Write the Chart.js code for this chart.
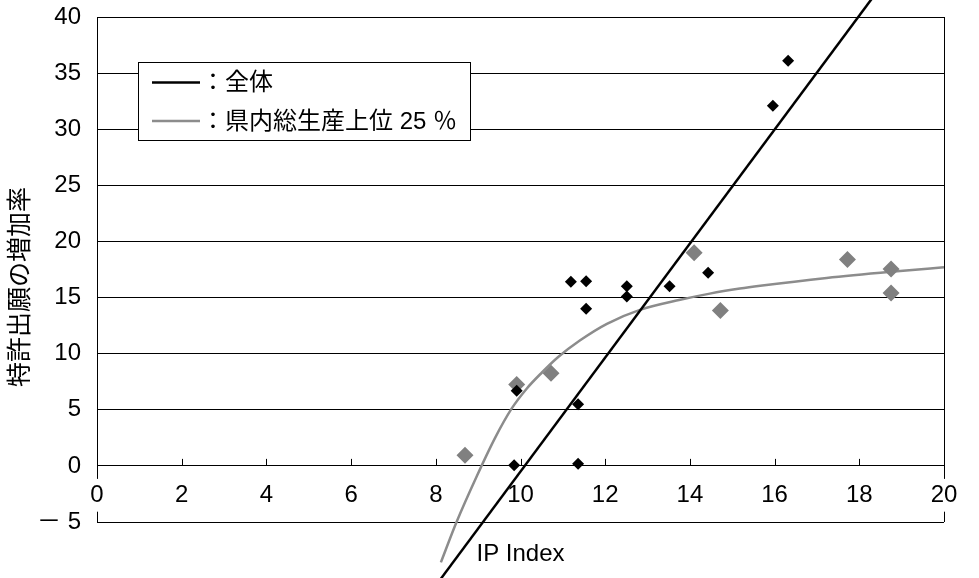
<!DOCTYPE html>
<html>
<head>
<meta charset="utf-8">
<script src="https://cdn.jsdelivr.net/npm/chart.js@4.4.1/dist/chart.umd.min.js"></script>
<style>
  body { margin: 0; background: #fff; }
  canvas { display: block; }
</style>
</head>
<body>
<canvas id="grafico" width="979" height="578"></canvas>
<script>
// 全体 (black diamonds)
const zentaiX = [9.85, 9.91, 11.36, 11.36, 11.19, 11.55, 11.55, 12.51, 12.51, 13.52, 14.43, 15.96, 16.32];
const zentaiY = [0.05, 6.7, 0.2, 5.5, 16.4, 16.45, 14.0, 16.0, 15.1, 16.0, 17.2, 32.1, 36.1];
// 県内総生産上位 25 % (gray diamonds)
const jouiX = [8.69, 9.91, 10.72, 14.1, 14.72, 17.72, 18.75, 18.75];
const jouiY = [0.95, 7.25, 8.25, 19.0, 13.85, 18.4, 17.55, 15.4];
// trend line for 全体 (ends)
const lineX = [8.12, 18.29];
const lineY = [-10.05, 41.6];
// trend curve for 上位 25 %
const curveX = [8.12, 8.49, 8.97, 9.4, 9.79, 10.15, 10.5, 10.89, 11.4, 12.04, 12.82, 13.77, 14.47, 15.18, 15.66, 17.23, 18.75, 20.0, 20.8];
const curveY = [-8.6, -5.0, -0.9, 2.5, 5.1, 6.9, 8.3, 9.7, 11.17, 12.66, 13.9, 14.8, 15.35, 15.8, 16.05, 16.75, 17.3, 17.7, 17.95];

const legendItems = [
  { color: '#000', text: '：全体' },
  { color: '#8c8c8c', text: '：県内総生産上位 25 ％' }
];
const xTitle = 'IP Index';
const yTitle = '特許出願の増加率';

const pts = (xs, ys) => xs.map((x, i) => ({ x: x, y: ys[i] }));
const fontFamily = "'Liberation Sans', Arial, 'Noto Sans CJK JP', sans-serif";

const decoraciones = {
  id: 'decoraciones',
  beforeDatasetsDraw(chart) {
    const { ctx, scales: { x, y } } = chart;
    const y0 = y.getPixelForValue(0);
    ctx.save();
    ctx.strokeStyle = '#000';
    ctx.lineWidth = 1;
    x.ticks.forEach(t => {
      const px = Math.round(x.getPixelForValue(t.value)) + 0.5;
      ctx.beginPath();
      ctx.moveTo(px, y0);
      ctx.lineTo(px, y0 - 7);
      ctx.stroke();
    });
    ctx.restore();
  },
  afterDraw(chart) {
    const { ctx, chartArea } = chart;
    ctx.save();
    // legend box
    ctx.fillStyle = '#fff';
    ctx.fillRect(138.5, 62.5, 332, 78);
    ctx.strokeStyle = '#000';
    ctx.lineWidth = 1;
    ctx.strokeRect(138.5, 62.5, 332, 78);
    ctx.font = '24px ' + fontFamily;
    ctx.textBaseline = 'middle';
    ctx.textAlign = 'left';
    legendItems.forEach((item, i) => {
      const ly = 82.5 + i * 38.5;
      ctx.strokeStyle = item.color;
      ctx.lineWidth = 2.5;
      ctx.beginPath();
      ctx.moveTo(152, ly);
      ctx.lineTo(200, ly);
      ctx.stroke();
      ctx.fillStyle = '#000';
      ctx.fillText(item.text, 201, ly + 1);
    });
    // axis titles
    ctx.textAlign = 'center';
    ctx.fillText(xTitle, (chartArea.left + chartArea.right) / 2, 554);
    ctx.translate(21, 287);
    ctx.rotate(-Math.PI / 2);
    ctx.font = '25px ' + fontFamily;
    ctx.fillText(yTitle, 0, 0);
    ctx.restore();
  }
};

const ctx = document.getElementById('grafico').getContext('2d');

new Chart(ctx, {
  type: 'scatter',
  data: {
    datasets: [
      {
        label: '全体',
        data: pts(zentaiX, zentaiY),
        pointStyle: 'rectRot',
        pointRadius: 6,
        backgroundColor: '#000',
        borderWidth: 0,
        order: 1
      },
      {
        label: '県内総生産上位 25 %',
        data: pts(jouiX, jouiY),
        pointStyle: 'rectRot',
        pointRadius: 8.5,
        backgroundColor: '#808080',
        borderWidth: 0,
        order: 1
      },
      {
        label: '全体 trend',
        data: pts(lineX, lineY),
        showLine: true,
        borderColor: '#000',
        borderWidth: 2.5,
        pointRadius: 0,
        clip: false,
        order: 2
      },
      {
        label: '上位 trend',
        data: pts(curveX, curveY),
        showLine: true,
        borderColor: '#8c8c8c',
        borderWidth: 2.5,
        pointRadius: 0,
        cubicInterpolationMode: 'monotone',
        clip: false,
        order: 2
      }
    ]
  },
  options: {
    responsive: false,
    animation: false,
    layout: { padding: { left: 0, top: 17, right: 35, bottom: 56 } },
    font: { family: fontFamily },
    plugins: {
      legend: { display: false },
      tooltip: { enabled: false }
    },
    scales: {
      x: {
        type: 'linear',
        min: 0,
        max: 20,
        position: { y: 0 },
        afterFit: s => { s.paddingTop = 0; s.paddingBottom = 0; },
        ticks: {
          stepSize: 2,
          padding: 15,
          color: '#000',
          font: { size: 24, family: fontFamily },
          showLabelBackdrop: c => c.tick && (c.tick.value === 0 || c.tick.value === 20),
          backdropColor: '#fff',
          backdropPadding: 2
        },
        grid: {
          drawTicks: false,
          color: c => (c.tick && c.tick.value === 20) ? '#000' : 'rgba(0,0,0,0)',
          lineWidth: 1
        },
        border: { color: '#000', width: 1 }
      },
      y: {
        min: -5,
        max: 40,
        afterFit: s => { s.width = 97; s.paddingTop = 0; s.paddingBottom = 0; },
        ticks: {
          stepSize: 5,
          padding: 16,
          color: '#000',
          font: { size: 24, family: fontFamily },
          callback: v => v < 0 ? '－ ' + Math.abs(v) : v
        },
        grid: { drawTicks: false, color: '#000', lineWidth: 1 },
        border: { color: '#000', width: 1, z: -1 }
      }
    }
  },
  plugins: [decoraciones]
});
</script>
</body>
</html>
